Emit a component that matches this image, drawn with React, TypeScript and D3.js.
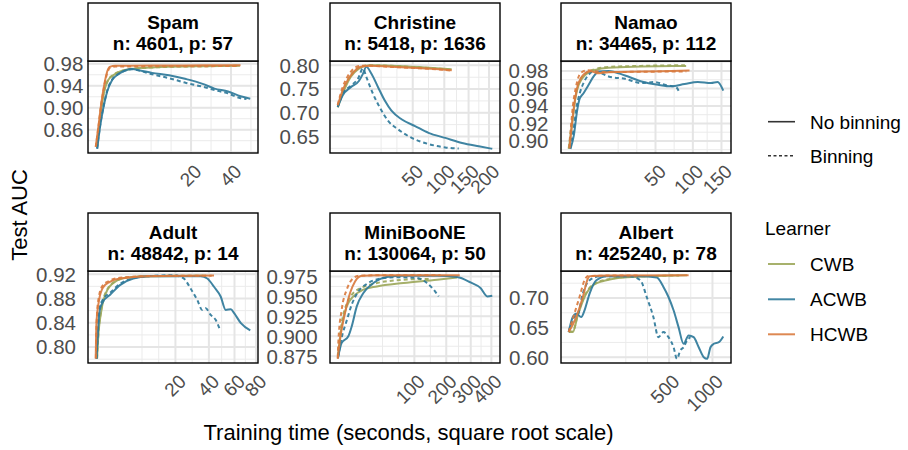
import * as d3 from "d3";

type Pt = [number, number];

const learners = ["CWB", "ACWB", "HCWB"];
const learnerColors = ["#9da85c", "#2f7a9a", "#d97b3f"];
const binningLabels = ["No binning", "Binning"];

// [training time in seconds, test AUC]
const spamCwb: Pt[] = [[0.014, 0.829], [0.067, 0.881], [0.198, 0.9296], [0.396, 0.9504], [0.74, 0.959], [1.4, 0.966], [2.72, 0.9704], [4.46, 0.9722], [9.2, 0.974], [25.1, 0.9757], [45.4, 0.9765]];
const spamCwbBin: Pt[] = [[0.012, 0.83], [0.06, 0.884], [0.19, 0.931], [0.4, 0.951], [0.76, 0.96], [1.45, 0.9665], [2.8, 0.9705], [4.6, 0.9722], [9.5, 0.974], [26, 0.9757], [44, 0.9763]];
const spamAcwb: Pt[] = [[0.0145, 0.8252], [0.067, 0.867], [0.158, 0.898], [0.34, 0.9296], [0.66, 0.9504], [1.19, 0.9609], [2.0, 0.9678], [3.03, 0.9704], [4.46, 0.9678], [7.1, 0.9635], [11.9, 0.9591], [18.0, 0.9522], [25.1, 0.9435], [30.9, 0.9348], [38.3, 0.9296], [45.8, 0.9209], [52.1, 0.9165]];
const spamAcwbBin: Pt[] = [[0.013, 0.826], [0.065, 0.868], [0.155, 0.899], [0.33, 0.93], [0.65, 0.951], [1.18, 0.961], [2.0, 0.9675], [3.0, 0.97], [4.5, 0.967], [7.1, 0.9609], [11.9, 0.9539], [18.0, 0.9452], [25.1, 0.9383], [30.9, 0.9322], [38.3, 0.9261], [45.8, 0.9174], [49.6, 0.9157]];
const spamHcwb: Pt[] = [[0.0026, 0.8287], [0.028, 0.8635], [0.093, 0.907], [0.198, 0.9417], [0.34, 0.966], [0.52, 0.9748], [0.91, 0.9765], [2.72, 0.9765], [9.2, 0.977], [25.1, 0.9772], [45.8, 0.9775]];
const spamHcwbBin: Pt[] = [[0.003, 0.829], [0.03, 0.864], [0.095, 0.906], [0.2, 0.94], [0.35, 0.964], [0.55, 0.9735], [0.95, 0.975], [2.8, 0.9752], [9.5, 0.9755], [26, 0.9757], [44, 0.976]];

const christineCwb: Pt[] = [[0.015, 0.7114], [0.47, 0.746], [1.79, 0.776], [4.34, 0.793], [9.1, 0.8004], [25.7, 0.7994], [62, 0.7961], [114, 0.7918]];
const christineCwbBin: Pt[] = [[0.02, 0.713], [0.45, 0.75], [1.7, 0.779], [4.2, 0.795], [9, 0.8], [26, 0.799], [60, 0.7955], [110, 0.7915]];
const christineAcwb: Pt[] = [[0.015, 0.712], [0.347, 0.737], [1.786, 0.754], [4.34, 0.767], [6.04, 0.782], [7.65, 0.797], [10.46, 0.783], [14.9, 0.754], [20.1, 0.7258], [26.0, 0.7043], [36.4, 0.6863], [53.1, 0.672], [72.8, 0.6577], [101.9, 0.647], [135.6, 0.6363], [174.1, 0.6292], [208.6, 0.624]];
const christineAcwbBin: Pt[] = [[0.015, 0.713], [0.35, 0.74], [1.8, 0.757], [4.0, 0.772], [6.04, 0.7936], [7.65, 0.7758], [11.5, 0.74], [16.1, 0.7114], [23, 0.6828], [32.8, 0.6648], [48.6, 0.647], [72.8, 0.6341], [101.9, 0.627], [128.5, 0.6245]];
const christineHcwb: Pt[] = [[0.0148, 0.7157], [0.347, 0.748], [1.115, 0.769], [2.61, 0.7865], [5.16, 0.7972], [10.27, 0.7994], [25.7, 0.7972], [48.2, 0.7951], [77.5, 0.7929], [114.2, 0.7897]];
const christineHcwbBin: Pt[] = [[0.016, 0.717], [0.3, 0.752], [1.0, 0.775], [2.4, 0.792], [4.8, 0.799], [10, 0.799], [26, 0.7968], [48, 0.7948], [78, 0.7925], [112, 0.7892]];

const namaoCwb: Pt[] = [[0.074, 0.891], [0.28, 0.9192], [0.63, 0.9492], [1.1, 0.9642], [2.47, 0.9755], [5.52, 0.9811], [11.46, 0.9838], [35.7, 0.985], [89.8, 0.9858]];
const namaoCwbBin: Pt[] = [[0.07, 0.8915], [0.26, 0.922], [0.6, 0.951], [1.05, 0.9655], [2.4, 0.9765], [5.4, 0.982], [11.2, 0.9845], [35, 0.9858], [88, 0.9866]];
const namaoAcwb: Pt[] = [[0.162, 0.891], [0.4375, 0.906], [0.845, 0.9342], [1.215, 0.9473], [2.07, 0.9549], [3.34, 0.9642], [4.92, 0.9737], [6.8, 0.9793], [11.46, 0.98], [21.92, 0.9748], [35.7, 0.968], [52.95, 0.9642], [69.1, 0.9624], [87.5, 0.965], [108, 0.9673], [130.5, 0.9661], [142.6, 0.9673], [153.5, 0.9575]];
const namaoAcwbBin: Pt[] = [[0.15, 0.8915], [0.4, 0.912], [0.8, 0.94], [1.3, 0.955], [2.2, 0.968], [3.3, 0.9755], [4.9, 0.9793], [7.0, 0.9785], [11.46, 0.9737], [21.92, 0.971], [35.7, 0.9661], [49.2, 0.9673], [60.8, 0.9642], [69.1, 0.9627], [75.7, 0.9613], [80.3, 0.9549]];
const namaoHcwb: Pt[] = [[0.105, 0.8915], [0.44, 0.9379], [0.845, 0.9605], [1.71, 0.9736], [3.34, 0.9793], [4.13, 0.9797], [6.12, 0.9774], [11.46, 0.9785], [35.7, 0.9793], [94.9, 0.9805]];
const namaoHcwbBin: Pt[] = [[0.1, 0.892], [0.35, 0.94], [0.7, 0.962], [1.4, 0.9774], [3.0, 0.9808], [4.5, 0.9802], [7, 0.979], [12, 0.9788], [35, 0.9791], [90, 0.9795]];

const adultCwb: Pt[] = [[0.0165, 0.7806], [0.034, 0.8122], [0.14, 0.8612], [0.427, 0.8911], [1.248, 0.9074], [3.14, 0.914], [9.44, 0.9167], [38, 0.9176]];
const adultCwbBin: Pt[] = [[0.016, 0.781], [0.035, 0.815], [0.14, 0.864], [0.43, 0.893], [1.25, 0.908], [3.1, 0.9145], [9.4, 0.917], [36, 0.9176]];
const adultAcwb: Pt[] = [[0.01, 0.7806], [0.078, 0.8612], [0.215, 0.8747], [0.702, 0.8857], [1.95, 0.902], [4.58, 0.913], [9.44, 0.9167], [34.4, 0.9167], [38.9, 0.913], [43.7, 0.8993], [48.8, 0.8829], [52.7, 0.8612], [56.9, 0.8623], [59.7, 0.8558], [65.6, 0.8394], [74.3, 0.8274]];
const adultAcwbBin: Pt[] = [[0.01, 0.781], [0.07, 0.864], [0.2, 0.878], [0.7, 0.889], [1.95, 0.904], [4.58, 0.9135], [9.44, 0.917], [19.1, 0.9184], [24.3, 0.913], [28.2, 0.8966], [32.3, 0.8775], [35.5, 0.8612], [37.8, 0.864], [41.3, 0.853], [44.9, 0.8448], [48.2, 0.8285]];
const adultHcwb: Pt[] = [[0.003, 0.7806], [0.009, 0.8394], [0.058, 0.8775], [0.215, 0.8983], [0.702, 0.9074], [1.95, 0.913], [9.44, 0.9167], [43.7, 0.9178]];
const adultHcwbBin: Pt[] = [[0.004, 0.782], [0.012, 0.845], [0.05, 0.882], [0.2, 0.9015], [0.65, 0.909], [1.9, 0.914], [9.4, 0.917], [42, 0.9176]];

const minibooneCwb: Pt[] = [[0.005, 0.874], [0.314, 0.9125], [1.47, 0.9375], [4.3, 0.95], [11.4, 0.9584], [26.3, 0.9625], [73.8, 0.9667], [167.6, 0.9709], [241.8, 0.9738]];
const minibooneCwbBin: Pt[] = [[0.005, 0.875], [0.3, 0.916], [1.4, 0.94], [4.3, 0.9542], [18.1, 0.9646], [73.8, 0.9709], [145.8, 0.972]];
const minibooneAcwb: Pt[] = [[0.005, 0.8723], [0.314, 0.8917], [2.02, 0.9], [3.48, 0.9125], [6.33, 0.9375], [11.4, 0.9542], [21.9, 0.9667], [41.3, 0.9742], [73.8, 0.9759], [167.6, 0.9759], [241.8, 0.9742], [298.9, 0.9675], [345.6, 0.9605], [378.9, 0.95], [404.7, 0.9509]];
const minibooneAcwbBin: Pt[] = [[0.005, 0.873], [0.3, 0.898], [1.5, 0.92], [3.5, 0.94], [7, 0.955], [15, 0.966], [30, 0.972], [60, 0.974], [106.9, 0.973], [135.5, 0.9667], [156.4, 0.9584], [173, 0.95]];
const minibooneHcwb: Pt[] = [[0.002, 0.8717], [0.115, 0.8959], [0.98, 0.9292], [2.7, 0.9542], [5.27, 0.9688], [10, 0.9759], [26.3, 0.9765], [73.8, 0.9765], [150, 0.9765], [252.5, 0.9765]];
const minibooneHcwbBin: Pt[] = [[0.002, 0.873], [0.014, 0.8917], [0.314, 0.9334], [1.47, 0.9584], [3.48, 0.9709], [8, 0.9759], [26, 0.9765], [74, 0.9766], [180, 0.9766]];

const albertCwb: Pt[] = [[0.78, 0.6424], [3.05, 0.6424], [7.97, 0.6707], [18.2, 0.7017], [36.7, 0.7215], [80, 0.73], [156.8, 0.7346], [334, 0.7368], [685.8, 0.7385]];
const albertCwbBin: Pt[] = [[0.9, 0.643], [3.2, 0.644], [8, 0.673], [18, 0.703], [36.7, 0.7225], [80, 0.731], [156.8, 0.735], [334, 0.737], [600, 0.738]];
const albertAcwb: Pt[] = [[0.78, 0.6424], [3.05, 0.6678], [6.14, 0.6735], [12.65, 0.6678], [18.2, 0.6792], [28.6, 0.7075], [46.1, 0.73], [80, 0.7368], [262.6, 0.7368], [389, 0.7346], [447, 0.7186], [493.7, 0.7017], [543.2, 0.6792], [593.9, 0.6508], [647.6, 0.6227], [703.6, 0.6368], [761.9, 0.6339], [822.8, 0.6169], [885.8, 0.6], [929.6, 0.5973], [973.7, 0.6169], [1018.6, 0.6227], [1088.9, 0.6254], [1151.8, 0.6351]];
const albertAcwbBin: Pt[] = [[0.78, 0.643], [4, 0.667], [8, 0.672], [15.2, 0.7075], [28.6, 0.73], [60, 0.7368], [195, 0.7368], [262.6, 0.73], [308.5, 0.7017], [360.6, 0.6678], [402.6, 0.6339], [447, 0.6424], [493.7, 0.6339], [543.2, 0.6169], [577.2, 0.5973], [612.2, 0.6114], [647.6, 0.6169], [685.8, 0.6283], [723.9, 0.6339]];
const albertHcwb: Pt[] = [[0.78, 0.6424], [6.14, 0.6678], [15.2, 0.7017], [24.8, 0.7329], [28.6, 0.7368], [80, 0.738], [703.6, 0.7385]];
const albertHcwbBin: Pt[] = [[0.78, 0.643], [10.17, 0.7017], [18.2, 0.73], [24.8, 0.737], [80, 0.7378], [262.6, 0.738]];

const panelTitles = ["Spam", "Christine", "Namao", "Adult", "MiniBooNE", "Albert"];
const panelSubtitles = ["n: 4601, p: 57", "n: 5418, p: 1636", "n: 34465, p: 112", "n: 48842, p: 14", "n: 130064, p: 50", "n: 425240, p: 78"];
const xTickValues = [[20, 40], [50, 100, 150, 200], [50, 100, 150], [20, 40, 60, 80], [100, 200, 300, 400], [500, 1000]];
const yTickValues = [[0.86, 0.9, 0.94, 0.98], [0.65, 0.7, 0.75, 0.8], [0.9, 0.92, 0.94, 0.96, 0.98], [0.8, 0.84, 0.88, 0.92], [0.875, 0.9, 0.925, 0.95, 0.975], [0.6, 0.65, 0.7]];
const yTickDigits = [2, 2, 2, 2, 3, 2];

// per panel: CWB, CWB binned, ACWB, ACWB binned, HCWB, HCWB binned
const panelLines = [
  [spamCwb, spamCwbBin, spamAcwb, spamAcwbBin, spamHcwb, spamHcwbBin],
  [christineCwb, christineCwbBin, christineAcwb, christineAcwbBin, christineHcwb, christineHcwbBin],
  [namaoCwb, namaoCwbBin, namaoAcwb, namaoAcwbBin, namaoHcwb, namaoHcwbBin],
  [adultCwb, adultCwbBin, adultAcwb, adultAcwbBin, adultHcwb, adultHcwbBin],
  [minibooneCwb, minibooneCwbBin, minibooneAcwb, minibooneAcwbBin, minibooneHcwb, minibooneHcwbBin],
  [albertCwb, albertCwbBin, albertAcwb, albertAcwbBin, albertHcwb, albertHcwbBin],
];

const width = 908;
const height = 450;
const font = "'Liberation Sans', Arial, sans-serif";
const colLeft = [88, 330, 561];
const rowTop = [3, 213];
const panelW = 170;
const stripH = 58;
const plotH = 92;
const yLabelGap = [4.7, 10.7, 12.5, 12, 12.3, 12];

// ggplot-style minor breaks, in transformed space
function minorBreaks(b: number[], lo: number, hi: number) {
  const bd = b[1] - b[0];
  let ext = b.slice();
  if (lo < ext[0]) ext = [ext[0] - bd, ...ext];
  if (hi > ext[ext.length - 1]) ext = [...ext, ext[ext.length - 1] + bd];
  const out: number[] = [];
  for (let i = 0; i < ext.length - 1; i++) out.push(ext[i], (ext[i] + ext[i + 1]) / 2);
  out.push(ext[ext.length - 1]);
  return out.filter(v => v >= lo && v <= hi);
}

function Panel({ i }: { i: number }) {
  const left = colLeft[i % 3];
  const top = rowTop[Math.floor(i / 3)];
  const py0 = top + stripH;
  const py1 = py0 + plotH;
  const lines = panelLines[i];
  const all = lines.flat();

  const s0 = Math.sqrt(d3.min(all, d => d[0])!);
  const s1 = Math.sqrt(d3.max(all, d => d[0])!);
  const sp = (s1 - s0) * 0.05;
  const sLo = s0 - sp;
  const sHi = s1 + sp;
  const x = d3.scaleSqrt()
    .domain([Math.sign(sLo) * sLo * sLo, sHi * sHi])
    .range([left, left + panelW]);

  const v0 = d3.min(all, d => d[1])!;
  const v1 = d3.max(all, d => d[1])!;
  const vp = (v1 - v0) * 0.05;
  const y = d3.scaleLinear().domain([v0 - vp, v1 + vp]).range([py1, py0]);

  const xMinor = minorBreaks(xTickValues[i].map(Math.sqrt), sLo, sHi).map(s => Math.sign(s) * s * s);
  const yMinor = minorBreaks(yTickValues[i], v0 - vp, v1 + vp);

  const line = d3.line<Pt>()
    .x(d => x(d[0]))
    .y(d => y(d[1]))
    .curve(d3.curveMonotoneX);

  const fmt = d3.format(`.${yTickDigits[i]}f`);

  return (
    <g>
      <rect x={left} y={py0} width={panelW} height={plotH} fill="white" />
      {xMinor.map((t, k) => (
        <line key={`xm${k}`} x1={x(t)} x2={x(t)} y1={py0} y2={py1} stroke="#ebebeb" strokeWidth={1} />
      ))}
      {yMinor.map((v, k) => (
        <line key={`ym${k}`} x1={left} x2={left + panelW} y1={y(v)} y2={y(v)} stroke="#ebebeb" strokeWidth={1} />
      ))}
      {xTickValues[i].map(t => (
        <line key={`xM${t}`} x1={x(t)} x2={x(t)} y1={py0} y2={py1} stroke="#e5e5e5" strokeWidth={2} />
      ))}
      {yTickValues[i].map(v => (
        <line key={`yM${v}`} x1={left} x2={left + panelW} y1={y(v)} y2={y(v)} stroke="#e5e5e5" strokeWidth={2} />
      ))}
      {lines.map((pts, k) => (
        <path
          key={k}
          d={line(pts)!}
          fill="none"
          stroke={learnerColors[Math.floor(k / 2)]}
          strokeOpacity={0.92}
          strokeWidth={2}
          strokeDasharray={k % 2 === 1 ? "4,3" : undefined}
        />
      ))}
      <rect x={left} y={py0} width={panelW} height={plotH} fill="none" stroke="black" strokeWidth={1.4} />
      <rect x={left} y={top} width={panelW} height={stripH} fill="white" stroke="black" strokeWidth={1.4} />
      <text x={left + panelW / 2} y={top + 25.5} textAnchor="middle" fontWeight="bold" fontSize={19} fill="#000">
        {panelTitles[i]}
      </text>
      <text x={left + panelW / 2} y={top + 47} textAnchor="middle" fontWeight="bold" fontSize={19} fill="#000">
        {panelSubtitles[i]}
      </text>
      {yTickValues[i].map(v => (
        <text key={`yl${v}`} x={left - yLabelGap[i]} y={y(v)} dy="0.36em" textAnchor="end" fontSize={20.5} fill="#4d4d4d">
          {fmt(v)}
        </text>
      ))}
      {xTickValues[i].map(t => (
        <text
          key={`xl${t}`}
          transform={`translate(${x(t) + 2},${py1 + 10}) rotate(-45)`}
          dy="0.72em"
          textAnchor="end"
          fontSize={19}
          fill="#4d4d4d"
        >
          {t}
        </text>
      ))}
    </g>
  );
}

function Legend() {
  const kx0 = 768;
  const kx1 = 795;
  const tx = 810;
  const binY = [121.7, 155.7];
  const learnY = [264, 299.3, 334.3];
  return (
    <g fontSize={19}>
      {binningLabels.map((lab, k) => (
        <g key={lab}>
          <line x1={kx0} x2={kx1} y1={binY[k]} y2={binY[k]} stroke="#333" strokeWidth={1.6} strokeDasharray={k === 1 ? "3,2.5" : undefined} />
          <text x={tx} y={binY[k]} dy="0.36em" fill="#000">{lab}</text>
        </g>
      ))}
      <text x={765} y={228.3} dy="0.36em" fill="#000">Learner</text>
      {learners.map((lab, k) => (
        <g key={lab}>
          <line x1={kx0} x2={kx1} y1={learnY[k]} y2={learnY[k]} stroke={learnerColors[k]} strokeOpacity={0.9} strokeWidth={2} />
          <text x={tx} y={learnY[k]} dy="0.36em" fill="#000">{lab}</text>
        </g>
      ))}
    </g>
  );
}

export default function App() {
  return (
    <svg
      width={width}
      height={height}
      style={{ position: "absolute", left: 0, top: 0, background: "white" }}
      fontFamily={font}
    >
      <rect width={width} height={height} fill="white" />
      {panelTitles.map((_, i) => <Panel key={i} i={i} />)}
      <text x={408.5} y={440} textAnchor="middle" fontSize={22} fill="#000">
        Training time (seconds, square root scale)
      </text>
      <text transform="translate(27,215) rotate(-90)" textAnchor="middle" fontSize={22} fill="#000">
        Test AUC
      </text>
      <Legend />
    </svg>
  );
}
